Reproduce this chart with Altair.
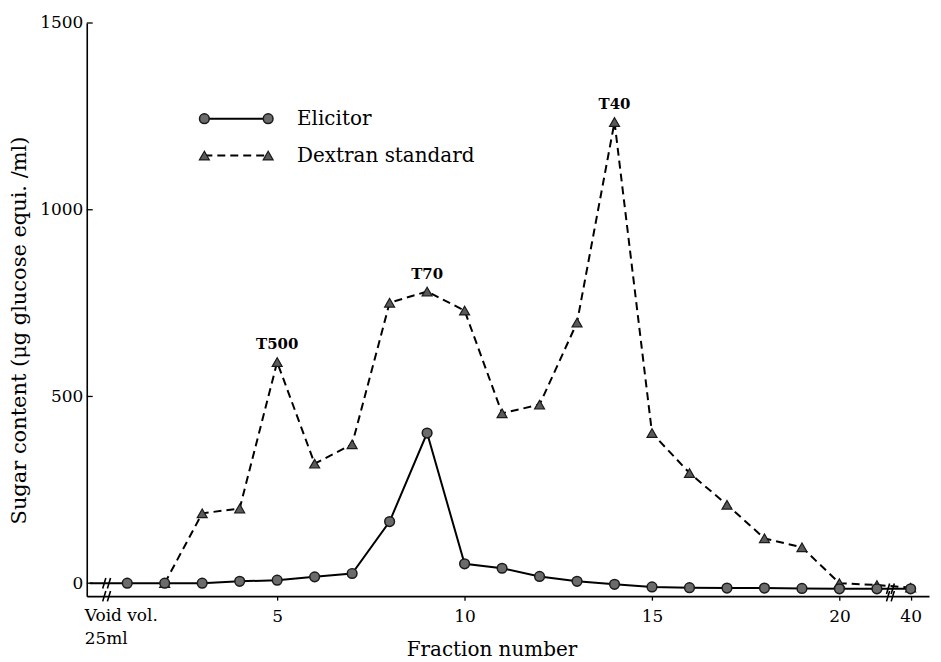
import altair as alt
import pandas as pd

# ---------------- data ----------------
elicitor_fractions = [1, 2, 3, 4, 5, 6, 7, 8, 9, 10, 11, 12, 13, 14, 15, 16, 17, 18, 19, 20, 21, 40]
elicitor_values = [0, 0, 0, 5, 8, 17, 26, 165, 402, 52, 40, 18, 5, -3, -10, -12, -13, -13, -14, -15, -15, -15]

dextran_fractions = [2, 3, 4, 5, 6, 7, 8, 9, 10, 11, 12, 13, 14, 15, 16, 17, 18, 19, 20, 21, 40]
dextran_values = [0, 187, 200, 592, 320, 372, 751, 781, 730, 455, 478, 698, 1235, 402, 295, 210, 120, 96, 0, -5, -12]

peak_labels = ["T500", "T70", "T40"]
peak_fractions = [5, 9, 14]

y_tick_values = [0, 500, 1000, 1500]
x_tick_fractions = [5, 10, 15, 20, 40]
legend_names = ["Elicitor", "Dextran standard"]
void_label_lines = ["Void vol.", "25ml"]

# ---------------- broken x axis: fractions after 21 sit just past the break ----------------
LAST_CONTINUOUS = 21
AFTER_BREAK_POS = 21.9
BREAK_POS = 21.36
VOID_BREAK_POS = 0.45


def axis_pos(f):
    return f if f <= LAST_CONTINUOUS else AFTER_BREAK_POS


df_e = pd.DataFrame({"fraction": elicitor_fractions,
                     "pos": [axis_pos(f) for f in elicitor_fractions],
                     "value": elicitor_values})
df_d = pd.DataFrame({"fraction": dextran_fractions,
                     "pos": [axis_pos(f) for f in dextran_fractions],
                     "value": dextran_values})
df_peaks = pd.DataFrame({"label": peak_labels,
                         "pos": [axis_pos(f) for f in peak_fractions],
                         "value": [dextran_values[dextran_fractions.index(f)] for f in peak_fractions]})
# zero line running from the void volume to fraction 1
df_void = pd.DataFrame({"pos": [0, 1], "value": [0, elicitor_values[0]]})
df_breaks = pd.DataFrame({"pos": [VOID_BREAK_POS, BREAK_POS],
                          "value": [0, elicitor_values[-1]]})
df_yticks = pd.DataFrame({"value": y_tick_values})

W, H = 845, 575
FONT = "DejaVu Serif"
X_DOMAIN = [-0.08, 22.39]
Y_DOMAIN = [-34.7, 1500]

xscale = alt.Scale(domain=X_DOMAIN, nice=False, zero=False)
yscale = alt.Scale(domain=Y_DOMAIN, nice=False, zero=False)

x_axis = alt.Axis(values=[axis_pos(f) for f in x_tick_fractions],
                  labelExpr=f"datum.value > {LAST_CONTINUOUS} ? '{x_tick_fractions[-1]}' : datum.label",
                  grid=False, domainColor="black", domainWidth=1.6,
                  tickColor="black", tickSize=4, tickWidth=1.3, labelPadding=8,
                  labelFont=FONT, labelFontSize=17, labelColor="black",
                  title="Fraction number", titleFont=FONT, titleFontSize=20,
                  titleFontWeight="normal", titleColor="black",
                  titleX=406, titleY=60, titleBaseline="alphabetic", titleAlign="center")
y_axis = alt.Axis(values=y_tick_values, format="d", grid=False, ticks=False, tickSize=0,
                  domainColor="black", domainWidth=1.6, labelPadding=4,
                  labelFont=FONT, labelFontSize=17, labelColor="black",
                  title="Sugar content (μg glucose equi. /ml)", titleFont=FONT,
                  titleFontSize=21, titleFontWeight="normal", titleColor="black",
                  titleX=-67, titleY=308, titleAngle=270, titleBaseline="middle",
                  titleAlign="center")

X = alt.X("pos:Q", scale=xscale, axis=x_axis)
Y = alt.Y("value:Q", scale=yscale, axis=y_axis)

CIRCLE = dict(shape="circle", size=95, filled=True, fill="#6b6b6b", stroke="#1a1a1a",
              strokeWidth=1.5, opacity=1)
TRI = dict(shape="triangle-up", size=100, filled=True, fill="#5a5a5a", stroke="#1a1a1a",
           strokeWidth=1.2, opacity=1)
DASH = [8, 5]
# two short parallel slashes, used as the axis-break symbol
BREAK_SHAPE = "M -0.75 1 L -0.15 -1 M 0.15 1 L 0.75 -1"

dextran_line = alt.Chart(df_d).mark_line(color="black", strokeWidth=2, strokeDash=DASH).encode(x=X, y=Y)
dextran_pts = alt.Chart(df_d).mark_point(**TRI).encode(x=X, y=Y)
elicitor_line = alt.Chart(df_e).mark_line(color="black", strokeWidth=2).encode(x=X, y=Y)
elicitor_pts = alt.Chart(df_e).mark_point(**CIRCLE).encode(x=X, y=Y)
void_line = alt.Chart(df_void).mark_line(color="black", strokeWidth=2).encode(x=X, y=Y)

peaks = alt.Chart(df_peaks).mark_text(font=FONT, fontSize=15, fontWeight="bold", dy=-18,
                                       baseline="middle", color="black").encode(
    x=X, y=Y, text="label:N")

# break marks on the data line and on the x axis
BREAK_STYLE = dict(shape=BREAK_SHAPE, size=110, filled=False, stroke="black",
                   strokeWidth=1.6, opacity=1)
breaks_line = alt.Chart(df_breaks).mark_point(**BREAK_STYLE).encode(x=X, y=Y)
breaks_axis = alt.Chart(df_breaks).mark_point(**BREAK_STYLE).encode(x=X, y=alt.value(H))

# inward y ticks
yticks = alt.Chart(df_yticks).mark_rule(color="black", strokeWidth=1.3).encode(
    x=alt.value(0), x2=alt.value(6), y=Y)

# "Void vol. / 25ml" label under the origin
void_layers = []
for i, line in enumerate(void_label_lines):
    dfl = pd.DataFrame({"pos": [0], "text": [line]})
    void_layers.append(alt.Chart(dfl).mark_text(font=FONT, fontSize=17, align="left",
                                                baseline="middle", dx=-5, color="black").encode(
        x=X, y=alt.value(H + 20 + 23 * i), text="text:N"))

# hand-made legend (line with a symbol at each end)
one = pd.DataFrame({"k": [0]})
LX0, LX1, LTX = 118, 182, 211
LY = [96, 133]
legend_layers = []
for i, name in enumerate(legend_names):
    sym = CIRCLE if i == 0 else TRI
    rule_kw = dict(color="black", strokeWidth=2)
    if i == 1:
        rule_kw["strokeDash"] = DASH
    legend_layers.append(alt.Chart(one).mark_rule(**rule_kw).encode(
        x=alt.value(LX0), x2=alt.value(LX1), y=alt.value(LY[i])))
    legend_layers.append(alt.Chart(one).mark_point(**sym).encode(x=alt.value(LX0), y=alt.value(LY[i])))
    legend_layers.append(alt.Chart(one).mark_point(**sym).encode(x=alt.value(LX1), y=alt.value(LY[i])))
    legend_layers.append(alt.Chart(one).mark_text(text=name, font=FONT, fontSize=20, align="left",
                                                  baseline="middle", color="black").encode(
        x=alt.value(LTX), y=alt.value(LY[i])))

chart = alt.layer(
    dextran_line, void_line, elicitor_line, dextran_pts, elicitor_pts,
    peaks, breaks_line, breaks_axis, yticks, *void_layers, *legend_layers
).properties(
    width=W, height=H,
    autosize=alt.AutoSizeParams(type="none"),
    padding={"left": 79, "top": 14, "right": 4, "bottom": 63},
    background="white",
).configure_view(stroke=None)

chart.save("out.html", embed_options={"renderer": "svg", "actions": False})
